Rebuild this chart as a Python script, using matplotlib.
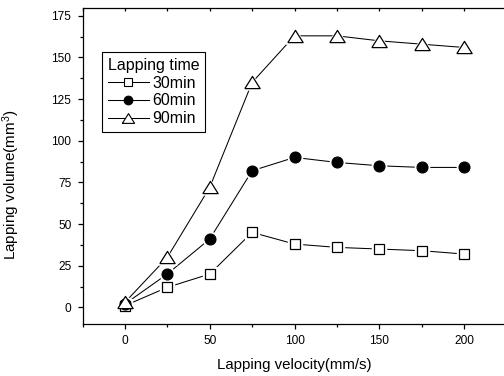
import numpy as np
import matplotlib
matplotlib.use("Agg")
import matplotlib.pyplot as plt
from matplotlib.ticker import MultipleLocator

plt.rcParams["font.family"] = ["Liberation Sans", "DejaVu Sans"]
plt.rcParams["mathtext.fontset"] = "custom"
plt.rcParams["mathtext.rm"] = "Liberation Sans"
plt.rcParams["mathtext.it"] = "Liberation Sans:italic"

velocity = [0, 25, 50, 75, 100, 125, 150, 175, 200]
vol_30 = [1, 12, 20, 45, 38, 36, 35, 34, 32]
vol_60 = [2, 20, 41, 82, 90, 87, 85, 84, 84]
vol_90 = [3, 30, 72, 135, 163, 163, 160, 158, 156]
labels = ["30min", "60min", "90min"]

tri = [(-1, -0.8), (1, -0.8), (0, 0.8), (-1, -0.8)]
styles = [
    dict(marker="s", ms=7.0, mfc="white"),
    dict(marker="o", ms=7.8, mfc="black"),
    dict(marker=tri, ms=11.0, mfc="white"),
]

fig = plt.figure(figsize=(5.04, 3.76), dpi=100)
ax = fig.add_axes([0.1637, 0.1383, 0.8413, 0.8417])

for ys, st, lab in zip([vol_30, vol_60, vol_90], styles, labels):
    ax.plot(velocity, ys, color="black", lw=0.75, zorder=2)
    # white halo so the line stops short of each marker
    ax.plot(velocity, ys, ls="none", marker=st["marker"], ms=st["ms"] + 2.5,
            mfc="white", mec="white", mew=1.0, zorder=3)
    ax.plot(velocity, ys, ls="none", marker=st["marker"], ms=st["ms"],
            mfc=st["mfc"], mec="black", mew=0.9, zorder=4)

handles = []
for st, lab in zip(styles, labels):
    h, = ax.plot([], [], color="black", lw=0.75, marker=st["marker"],
                 ms=st["ms"] * 0.8, mfc=st["mfc"], mec="black", mew=0.8, label=lab)
    handles.append(h)

leg = ax.legend(handles=handles, title="Lapping time", loc="upper left",
                bbox_to_anchor=(0.046, 0.859), fontsize=11.5, title_fontsize=11.5,
                frameon=True, fancybox=False, edgecolor="black", framealpha=1,
                handlelength=2.6, handletextpad=0.2, borderpad=0.35,
                labelspacing=0.18, borderaxespad=0)
leg.get_frame().set_linewidth(0.8)
leg._legend_box.align = "left"

ax.set_xlim(-25, 225)
ax.set_ylim(-10, 180)
ax.xaxis.set_major_locator(MultipleLocator(50))
ax.xaxis.set_minor_locator(MultipleLocator(25))
ax.yaxis.set_major_locator(MultipleLocator(25))
ax.yaxis.set_minor_locator(MultipleLocator(12.5))

ax.tick_params(axis="both", which="major", direction="out", length=3.5, width=0.9,
               labelsize=8.6, pad=4.5)
ax.tick_params(axis="both", which="minor", direction="out", length=2, width=0.9)
ax.tick_params(axis="x", which="both", top=True)
for t in ax.xaxis.get_major_ticks() + ax.xaxis.get_minor_ticks():
    t.tick2line.set_marker(3)
    t.tick2line.set_markersize(2)
for sp in ax.spines.values():
    sp.set_linewidth(0.9)

ax.set_xlabel("Lapping velocity(mm/s)", fontsize=10.8, labelpad=8)
ax.set_ylabel(r"Lapping volume(mm$^3$)", fontsize=11)
ax.yaxis.set_label_coords(-0.143, 0.442)

fig.savefig("out.png", dpi=100)
